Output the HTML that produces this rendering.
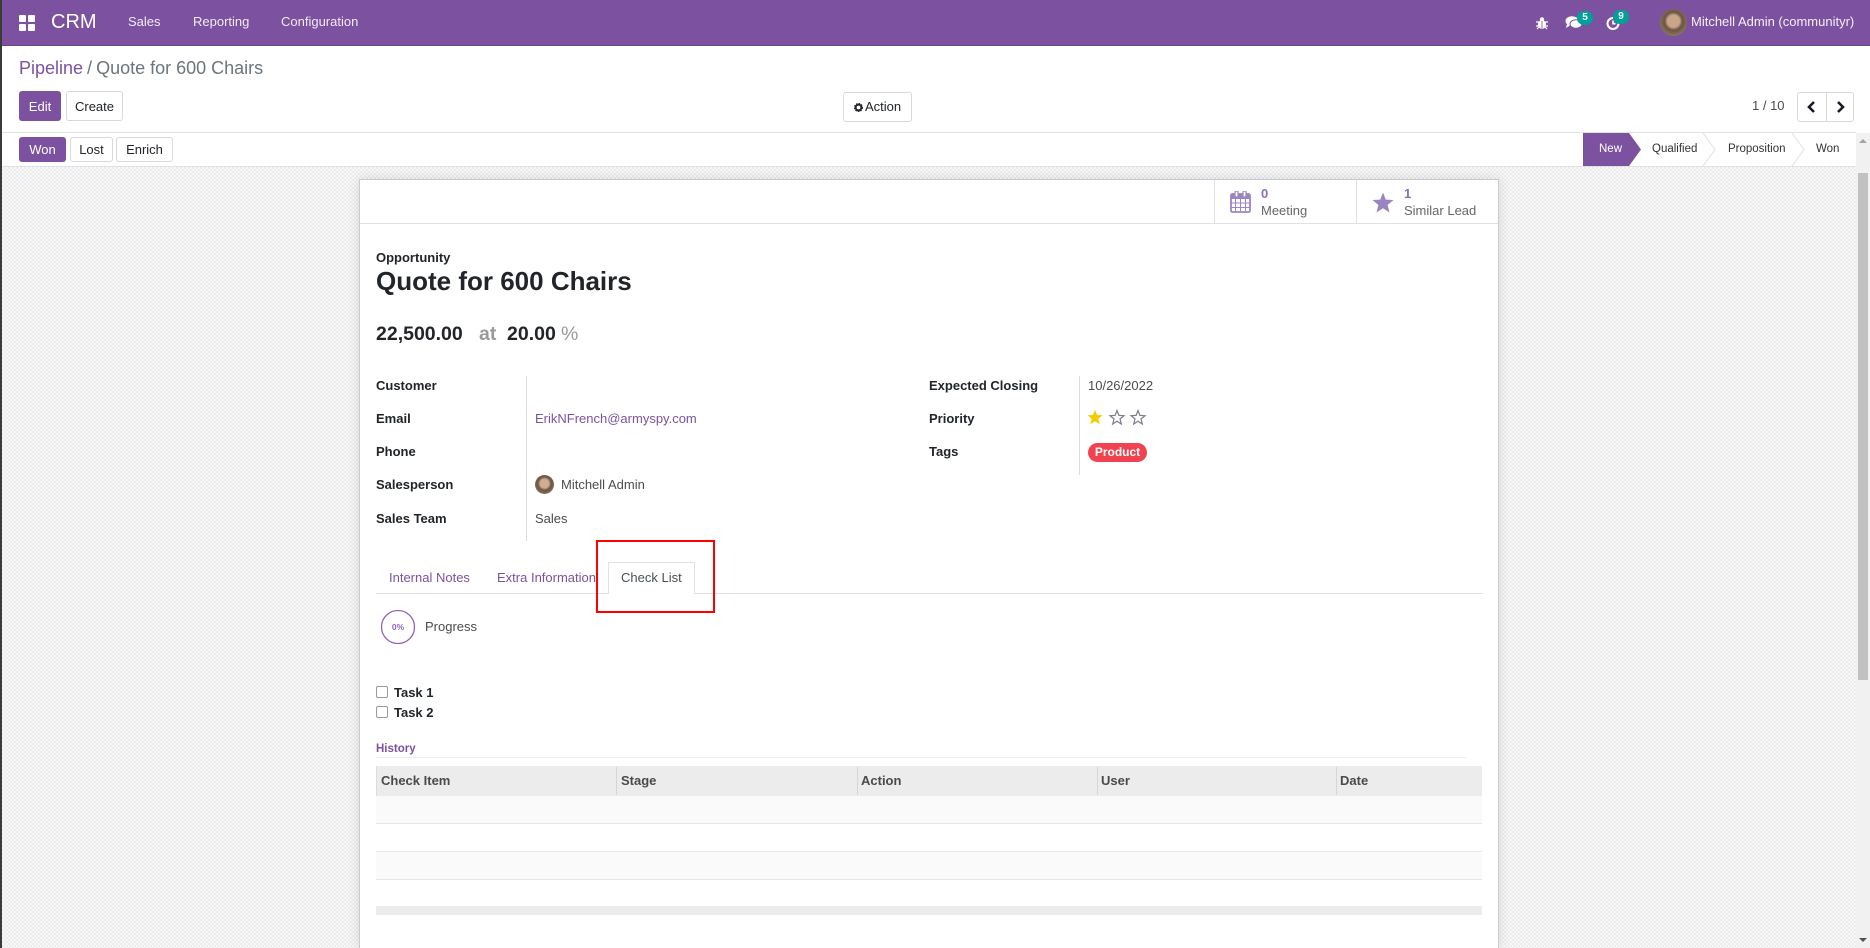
<!DOCTYPE html>
<html><head><meta charset="utf-8">
<style>
*{box-sizing:border-box;margin:0;padding:0}
html,body{width:1870px;height:948px;overflow:hidden;background:#fff;font-family:"Liberation Sans",Arial,sans-serif;font-size:13px;color:#4c4c4c;position:relative}
.a{position:absolute;white-space:nowrap}
.t13{font-size:13px;line-height:16px}
.b{font-weight:bold}
.lbl{font-weight:bold;color:#212529}
.pur{color:#7C52A0}
.st{font-size:11.5px;line-height:16px}
</style></head><body>
<!-- left dark edge -->
<div class="a" style="left:0;top:0;width:2px;height:948px;background:#3a3a3a;z-index:5"></div>

<!-- navbar -->
<div class="a" style="left:0;top:0;width:1870px;height:46px;background:#7C52A0;border-bottom:1px solid #6a4590"></div>
<div class="a" style="left:19px;top:15px;width:7px;height:7px;background:#fff;border-radius:1px"></div>
<div class="a" style="left:28px;top:15px;width:7px;height:7px;background:#fff;border-radius:1px"></div>
<div class="a" style="left:19px;top:24px;width:7px;height:7px;background:#fff;border-radius:1px"></div>
<div class="a" style="left:28px;top:24px;width:7px;height:7px;background:#fff;border-radius:1px"></div>
<div class="a" style="left:51px;top:10px;font-size:20px;line-height:24px;color:#fff">CRM</div>
<div class="a t13" style="left:128px;top:14px;color:#f0eaf5">Sales</div>
<div class="a t13" style="left:193px;top:14px;color:#f0eaf5">Reporting</div>
<div class="a t13" style="left:281px;top:14px;color:#f0eaf5">Configuration</div>

<!-- bug -->
<svg class="a" style="left:1535px;top:16px" width="14" height="14" viewBox="0 0 14 14"><ellipse cx="7" cy="8.5" rx="4" ry="4.5" fill="#fff"/><circle cx="7" cy="3.5" r="2.2" fill="#fff"/><path d="M1 6h3M10 6h3M1 10h3M10 10h3M2 13l2-2M12 13l-2-2" stroke="#fff" stroke-width="1.2"/><line x1="7" y1="5" x2="7" y2="13" stroke="#7C52A0" stroke-width="0.8"/></svg>
<!-- chat -->
<svg class="a" style="left:1565px;top:15px" width="18" height="15" viewBox="0 0 18 15"><ellipse cx="7" cy="6" rx="6.5" ry="4.8" fill="#fff"/><path d="M2 9l-1 4 4-2.5z" fill="#fff"/><ellipse cx="11" cy="9" rx="6" ry="4.3" fill="#fff" stroke="#7C52A0" stroke-width="1"/></svg>
<div class="a" style="left:1577px;top:11px;width:16px;height:14px;border-radius:7px;background:#00A09D;color:#fff;font-size:10px;font-weight:bold;line-height:14px;text-align:center">5</div>
<!-- clock -->
<svg class="a" style="left:1606px;top:16px" width="15" height="14" viewBox="0 0 15 14"><path d="M7 2a5.5 5.5 0 1 0 5.5 5.5" fill="none" stroke="#fff" stroke-width="2"/><path d="M7 4.5v3.2h2.5" fill="none" stroke="#fff" stroke-width="1.6"/></svg>
<div class="a" style="left:1613px;top:10px;width:16px;height:14px;border-radius:7px;background:#00A09D;color:#fff;font-size:10px;font-weight:bold;line-height:14px;text-align:center">9</div>
<!-- avatar -->
<div class="a" style="left:1660px;top:9px;width:27px;height:27px;border-radius:50%;background:radial-gradient(circle at 50% 45%,#c9a58a 0 30%,#6b5444 45%,#8a7a5a 75%,#b3a27a 100%)"></div>
<div class="a t13" style="left:1691px;top:14px;color:#f4eef8">Mitchell Admin (communityr)</div>

<!-- control panel -->
<div class="a" style="left:19px;top:56px;font-size:18px;line-height:24px"><span class="pur">Pipeline</span><span style="color:#6c757d;margin-left:4px">/</span><span style="color:#6c757d;margin-left:4px">Quote for 600 Chairs</span></div>
<div class="a t13" style="left:19px;top:91px;width:42px;height:30px;background:#7C52A0;color:#fff;border-radius:3px;text-align:center;line-height:31px">Edit</div>
<div class="a t13" style="left:66px;top:91px;width:57px;height:30px;background:#fff;color:#212529;border:1px solid #d9d9d9;border-radius:3px;text-align:center;line-height:29px">Create</div>
<div class="a t13" style="left:843px;top:92px;width:69px;height:30px;background:#fff;color:#212529;border:1px solid #d9d9d9;border-radius:3px;line-height:28px;padding-left:10px">
<svg style="position:absolute;left:10px;top:10px" width="9" height="9" viewBox="0 0 10 10"><circle cx="5" cy="5" r="3.2" fill="none" stroke="#212529" stroke-width="2.2"/><circle cx="5" cy="5" r="4.3" fill="none" stroke="#212529" stroke-width="1.6" stroke-dasharray="1.6 1.3"/></svg><span style="margin-left:11px">Action</span></div>
<div class="a t13" style="left:1752px;top:98px;color:#4c4c4c">1 / 10</div>
<div class="a" style="left:1797px;top:92px;width:57px;height:30px;border:1px solid #d9d9d9;border-radius:3px;background:#fff"></div>
<div class="a" style="left:1826px;top:93px;width:1px;height:28px;background:#d9d9d9"></div>
<svg class="a" style="left:1806px;top:100px" width="12" height="14" viewBox="0 0 12 14"><path d="M8 2L3 7l5 5" fill="none" stroke="#1a1a2a" stroke-width="2.6"/></svg>
<svg class="a" style="left:1834px;top:100px" width="12" height="14" viewBox="0 0 12 14"><path d="M4 2l5 5-5 5" fill="none" stroke="#1a1a2a" stroke-width="2.6"/></svg>

<!-- statusbar row -->
<div class="a" style="left:0;top:132px;width:1856px;height:1px;background:#dee2e6"></div>
<div class="a" style="left:0;top:166px;width:1856px;height:1px;background:#dee2e6"></div>
<div class="a t13" style="left:19px;top:137px;width:47px;height:25px;background:#7C52A0;color:#fff;border-radius:3px;text-align:center;line-height:25px">Won</div>
<div class="a t13" style="left:70px;top:137px;width:43px;height:25px;background:#fff;color:#212529;border:1px solid #d9d9d9;border-radius:3px;text-align:center;line-height:23px">Lost</div>
<div class="a t13" style="left:116px;top:137px;width:57px;height:25px;background:#fff;color:#212529;border:1px solid #d9d9d9;border-radius:3px;text-align:center;line-height:23px">Enrich</div>
<svg class="a" style="left:1583px;top:133px" width="273" height="33" viewBox="0 0 273 33">
<polygon points="0,0 46,0 58,16.5 46,33 0,33" fill="#7C52A0"/>
<polyline points="120,0 132,16.5 120,33" fill="none" stroke="#dee2e6" stroke-width="1"/>
<polyline points="209,0 221,16.5 209,33" fill="none" stroke="#dee2e6" stroke-width="1"/>
</svg>
<div class="a st" style="left:1599px;top:141px;color:#fff">New</div>
<div class="a st" style="left:1652px;top:141px;color:#333">Qualified</div>
<div class="a st" style="left:1728px;top:141px;color:#333">Proposition</div>
<div class="a st" style="left:1816px;top:141px;color:#333">Won</div>

<!-- content background -->
<div class="a" style="left:2px;top:167px;width:1854px;height:781px;background:repeating-conic-gradient(#ececec 0 25%,#f8f8f8 0 50%) 0 0/4px 4px"></div>

<!-- scrollbar -->
<div class="a" style="left:1856px;top:133px;width:14px;height:815px;background:#f1f1f1"></div>
<div class="a" style="left:1858px;top:173px;width:10px;height:507px;background:#c1c1c1"></div>
<div class="a" style="left:1859px;top:139px;width:0;height:0;border-left:4px solid transparent;border-right:4px solid transparent;border-bottom:4px solid #a3a3a3"></div>
<div class="a" style="left:1859px;top:938px;width:0;height:0;border-left:4px solid transparent;border-right:4px solid transparent;border-top:4px solid #505050"></div>

<!-- sheet -->
<div class="a" style="left:359px;top:179px;width:1140px;height:769px;background:#fff;border:1px solid #c9cbd3;border-bottom:none;box-shadow:0 0 12px rgba(0,0,0,0.12)"></div>
<div class="a" style="left:360px;top:223px;width:1138px;height:1px;background:#dee2e6"></div>
<div class="a" style="left:1214px;top:180px;width:1px;height:43px;background:#dee2e6"></div>
<div class="a" style="left:1356px;top:180px;width:1px;height:43px;background:#dee2e6"></div>
<svg class="a" style="left:1230px;top:191px" width="21" height="22" viewBox="0 0 21 22"><rect x="1" y="3" width="19" height="18" rx="1.5" fill="none" stroke="#9B84C4" stroke-width="1.8"/><rect x="1" y="3" width="19" height="5" fill="#9B84C4"/><rect x="5" y="0" width="3" height="6" rx="1" fill="#fff" stroke="#9B84C4" stroke-width="1.2"/><rect x="13" y="0" width="3" height="6" rx="1" fill="#fff" stroke="#9B84C4" stroke-width="1.2"/><path d="M5.5 8v12M10.5 8v12M15.5 8v12M1 12h19M1 16.5h19" stroke="#9B84C4" stroke-width="1"/></svg>
<div class="a t13 b" style="left:1261px;top:186px;color:#8D6CB9">0</div>
<div class="a t13" style="left:1261px;top:203px;color:#666">Meeting</div>
<svg class="a" style="left:1372px;top:192px" width="22" height="21" viewBox="0 0 24 23"><polygon points="12,0.5 15,8.3 23.5,8.8 17,14.2 19.2,22.5 12,17.8 4.8,22.5 7,14.2 0.5,8.8 9,8.3" fill="#9B84C4"/></svg>
<div class="a t13 b" style="left:1404px;top:186px;color:#8D6CB9">1</div>
<div class="a t13" style="left:1404px;top:203px;color:#666">Similar Lead</div>

<!-- title -->
<div class="a t13 lbl" style="left:376px;top:250px">Opportunity</div>
<div class="a b" style="left:376px;top:266px;font-size:26px;line-height:30px;color:#212529">Quote for 600 Chairs</div>
<div class="a b" style="left:376px;top:322px;font-size:19.5px;line-height:24px;color:#212529">22,500.00</div>
<div class="a b" style="left:479px;top:322px;font-size:19.5px;line-height:24px;color:#999">at</div>
<div class="a b" style="left:507px;top:322px;font-size:19.5px;line-height:24px;color:#212529">20.00</div>
<div class="a" style="left:561px;top:322px;font-size:19.5px;line-height:24px;color:#999">%</div>

<!-- fields left -->
<div class="a" style="left:526px;top:376px;width:1px;height:165px;background:#dcdcdc"></div>
<div class="a t13 lbl" style="left:376px;top:378px">Customer</div>
<div class="a t13 lbl" style="left:376px;top:411px">Email</div>
<div class="a t13 lbl" style="left:376px;top:444px">Phone</div>
<div class="a t13 lbl" style="left:376px;top:477px">Salesperson</div>
<div class="a t13 lbl" style="left:376px;top:511px">Sales Team</div>
<div class="a t13" style="left:535px;top:411px;color:#7C52A0">ErikNFrench@armyspy.com</div>
<div class="a" style="left:535px;top:475px;width:19px;height:19px;border-radius:50%;background:radial-gradient(circle at 50% 45%,#d0ad92 0 30%,#6b5444 48%,#8b7a5a 80%,#a8976f 100%)"></div>
<div class="a t13" style="left:561px;top:477px">Mitchell Admin</div>
<div class="a t13" style="left:535px;top:511px">Sales</div>

<!-- fields right -->
<div class="a" style="left:1079px;top:376px;width:1px;height:99px;background:#dcdcdc"></div>
<div class="a t13 lbl" style="left:929px;top:378px">Expected Closing</div>
<div class="a t13 lbl" style="left:929px;top:411px">Priority</div>
<div class="a t13 lbl" style="left:929px;top:444px">Tags</div>
<div class="a t13" style="left:1088px;top:378px">10/26/2022</div>
<svg class="a" style="left:1087px;top:409px" width="62" height="17" viewBox="0 0 62 17">
<polygon points="8,0.8 10.1,6 15.6,6.3 11.3,9.8 12.7,15.3 8,12.3 3.3,15.3 4.7,9.8 0.4,6.3 5.9,6" fill="#F3CC00"/>
<polygon points="30,1.5 31.9,6.4 37,6.7 33,9.9 34.3,15 30,12.2 25.7,15 27,9.9 23,6.7 28.1,6.4" fill="none" stroke="#7a7f8a" stroke-width="1.2"/>
<polygon points="51,1.5 52.9,6.4 58,6.7 54,9.9 55.3,15 51,12.2 46.7,15 48,9.9 44,6.7 49.1,6.4" fill="none" stroke="#7a7f8a" stroke-width="1.2"/>
</svg>
<div class="a b" style="left:1088px;top:443px;width:59px;height:19px;border-radius:10px;background:#F0424F;color:#fff;font-size:12px;line-height:19px;text-align:center">Product</div>

<!-- tabs -->
<div class="a" style="left:376px;top:593px;width:1107px;height:1px;background:#dee2e6"></div>
<div class="a t13" style="left:389px;top:570px;color:#7C52A0">Internal Notes</div>
<div class="a t13" style="left:497px;top:570px;color:#7C52A0">Extra Information</div>
<div class="a" style="left:608px;top:562px;width:87px;height:32px;background:#fff;border:1px solid #dee2e6;border-bottom:none"></div>
<div class="a t13" style="left:621px;top:570px;color:#495057">Check List</div>
<div class="a" style="left:596px;top:540px;width:119px;height:73px;border:2px solid #ff0000"></div>

<!-- progress -->
<svg class="a" style="left:380px;top:609px" width="36" height="36" viewBox="0 0 36 36"><circle cx="18" cy="18" r="16.5" fill="none" stroke="#8E63B8" stroke-width="1.3"/><text x="18" y="21" text-anchor="middle" font-family="Liberation Sans,Arial,sans-serif" font-size="8.5" font-weight="bold" fill="#8E63B8">0%</text></svg>
<div class="a t13" style="left:425px;top:619px">Progress</div>

<!-- tasks -->
<div class="a" style="left:376px;top:686px;width:12px;height:12px;border:1px solid #9a9a9a;border-radius:2px;background:#fff"></div>
<div class="a t13 lbl" style="left:394px;top:685px">Task 1</div>
<div class="a" style="left:376px;top:706px;width:12px;height:12px;border:1px solid #9a9a9a;border-radius:2px;background:#fff"></div>
<div class="a t13 lbl" style="left:394px;top:705px">Task 2</div>

<!-- history -->
<div class="a b" style="left:376px;top:742px;font-size:11.5px;line-height:14px;color:#7C52A0">History</div>
<div class="a" style="left:376px;top:757px;width:1090px;height:1px;background:#eeeeee"></div>
<div class="a" style="left:376px;top:766px;width:1106px;height:30px;background:#ececec;border-left:1px solid #dcdcdc"></div>
<div class="a" style="left:616px;top:767px;width:1px;height:28px;background:#d6d6d6"></div>
<div class="a" style="left:857px;top:767px;width:1px;height:28px;background:#d6d6d6"></div>
<div class="a" style="left:1097px;top:767px;width:1px;height:28px;background:#d6d6d6"></div>
<div class="a" style="left:1336px;top:767px;width:1px;height:28px;background:#d6d6d6"></div>
<div class="a t13 b" style="left:381px;top:773px;color:#4a4a4a">Check Item</div>
<div class="a t13 b" style="left:621px;top:773px;color:#4a4a4a">Stage</div>
<div class="a t13 b" style="left:861px;top:773px;color:#4a4a4a">Action</div>
<div class="a t13 b" style="left:1101px;top:773px;color:#4a4a4a">User</div>
<div class="a t13 b" style="left:1340px;top:773px;color:#4a4a4a">Date</div>
<div class="a" style="left:376px;top:796px;width:1106px;height:27px;background:#fafafa"></div>
<div class="a" style="left:376px;top:823px;width:1106px;height:1px;background:#e6e6e6"></div>
<div class="a" style="left:376px;top:851px;width:1106px;height:28px;background:#fafafa;border-top:1px solid #e6e6e6"></div>
<div class="a" style="left:376px;top:879px;width:1106px;height:1px;background:#e6e6e6"></div>
<div class="a" style="left:376px;top:906px;width:1106px;height:9px;background:#ececec"></div>
</body></html>
